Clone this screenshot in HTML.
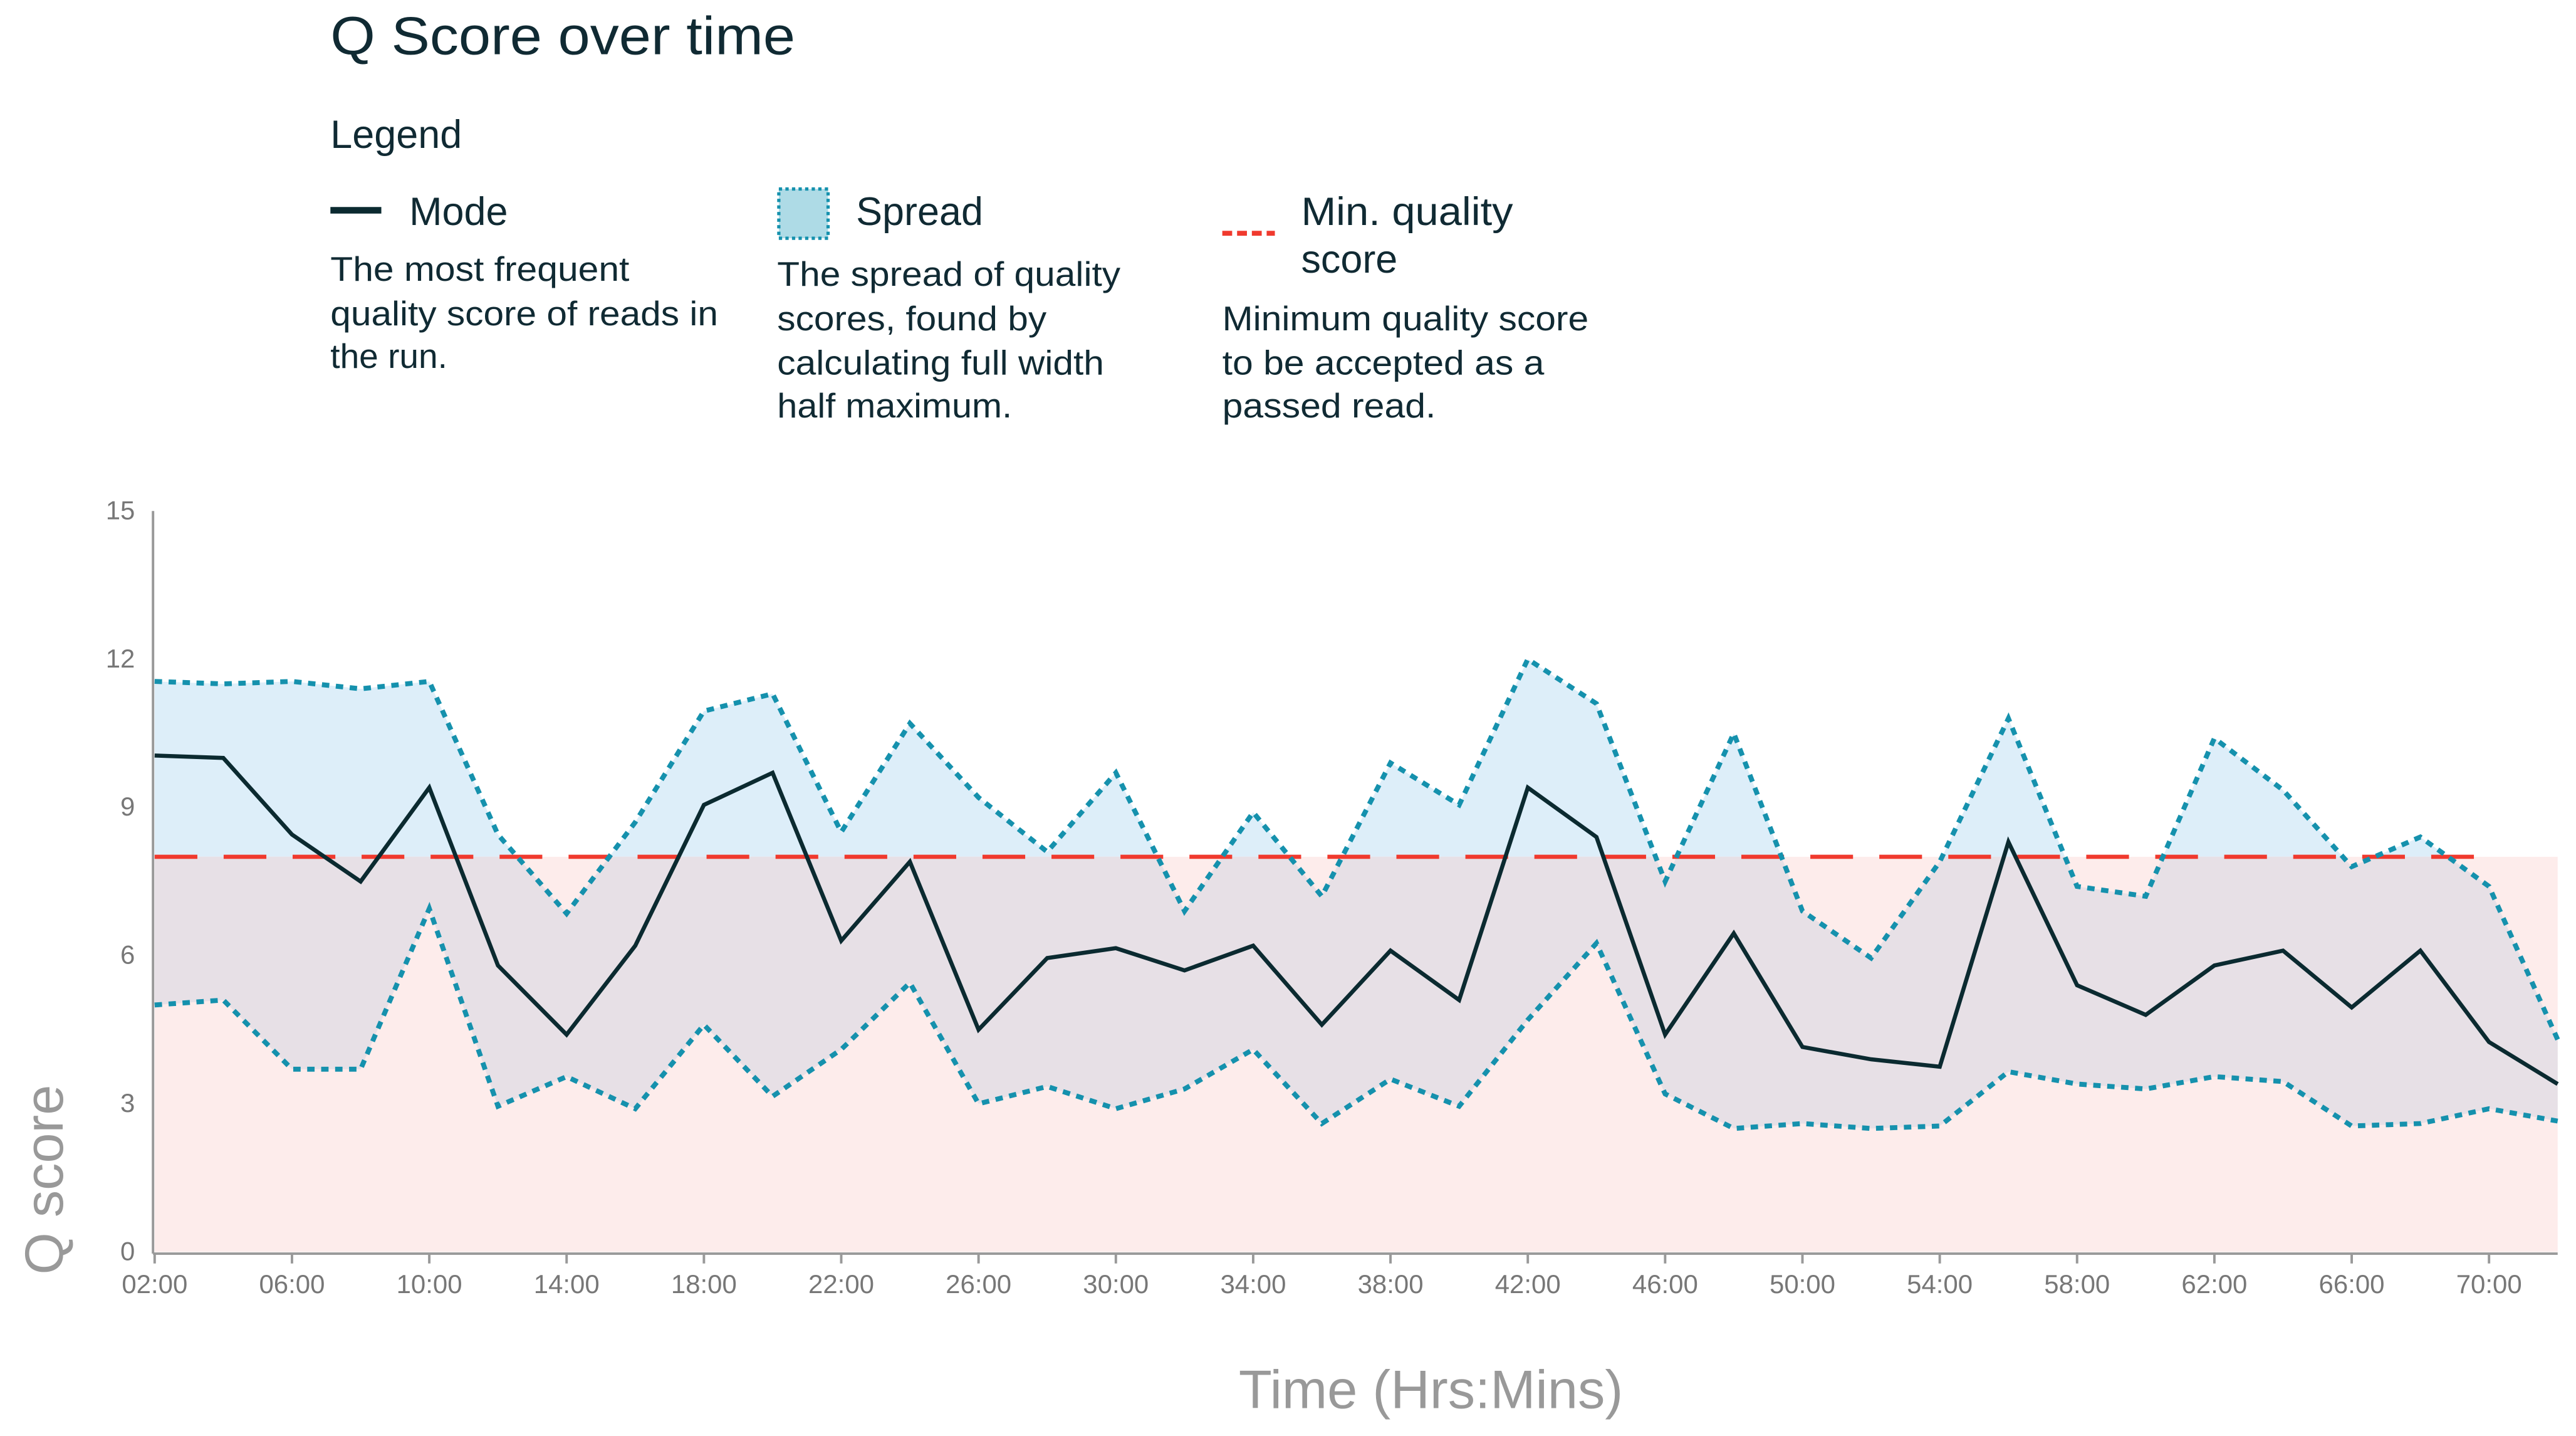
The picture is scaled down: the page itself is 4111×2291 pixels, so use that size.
<!DOCTYPE html>
<html><head><meta charset="utf-8"><style>
html,body{margin:0;padding:0;background:#fff;}
svg{display:block;font-family:"Liberation Sans",Arial,sans-serif;}
</style></head><body>
<svg id="chart" width="4111" height="2291" viewBox="0 0 1568 874" xmlns="http://www.w3.org/2000/svg">
<defs>
<clipPath id="above"><rect x="0" y="0" width="1568" height="521.4"/></clipPath>
<clipPath id="below"><rect x="0" y="521.4" width="1568" height="400"/></clipPath>
</defs>
<text x="201" y="33" font-size="32.5" fill="#102a33" textLength="283" lengthAdjust="spacingAndGlyphs">Q Score over time</text>
<text x="201" y="90" font-size="24" fill="#102a33">Legend</text>
<g fill="#102a33">
<line x1="201" y1="128" x2="232" y2="128" stroke="#0b2a30" stroke-width="4"/>
<text x="249" y="137" font-size="24">Mode</text>
<text x="201" y="171" font-size="21" textLength="182" lengthAdjust="spacingAndGlyphs">The most frequent</text>
<text x="201" y="198" font-size="21" textLength="236" lengthAdjust="spacingAndGlyphs">quality score of reads in</text>
<text x="201" y="224" font-size="21">the run.</text>
</g>
<g fill="#102a33">
<rect x="474" y="115" width="30" height="30" fill="#aedbe6" stroke="#1591ad" stroke-width="2" stroke-dasharray="2 2"/>
<text x="521" y="137" font-size="24">Spread</text>
<text x="473" y="174" font-size="21" textLength="209" lengthAdjust="spacingAndGlyphs">The spread of quality</text>
<text x="473" y="201" font-size="21" textLength="164" lengthAdjust="spacingAndGlyphs">scores, found by</text>
<text x="473" y="228" font-size="21" textLength="199" lengthAdjust="spacingAndGlyphs">calculating full width</text>
<text x="473" y="254" font-size="21" textLength="143" lengthAdjust="spacingAndGlyphs">half maximum.</text>
</g>
<g fill="#102a33">
<line x1="744" y1="142" x2="776" y2="142" stroke="#f03a2e" stroke-width="3" stroke-dasharray="6 3"/>
<text x="792" y="137" font-size="24" textLength="129" lengthAdjust="spacingAndGlyphs">Min. quality</text>
<text x="792" y="166" font-size="24">score</text>
<text x="744" y="201" font-size="21" textLength="223" lengthAdjust="spacingAndGlyphs">Minimum quality score</text>
<text x="744" y="228" font-size="21" textLength="196" lengthAdjust="spacingAndGlyphs">to be accepted as a</text>
<text x="744" y="254" font-size="21" textLength="130" lengthAdjust="spacingAndGlyphs">passed read.</text>
</g>
<g id="plot"></g>
<text transform="translate(38,718) rotate(-90)" text-anchor="middle" font-size="33" fill="#999">Q score</text>
<text x="871" y="857" text-anchor="middle" font-size="33" fill="#999" textLength="234" lengthAdjust="spacingAndGlyphs">Time (Hrs:Mins)</text>
</svg>
<script>
const times = ["02:00","04:00","06:00","08:00","10:00","12:00","14:00","16:00","18:00","20:00","22:00","24:00","26:00","28:00","30:00","32:00","34:00","36:00","38:00","40:00","42:00","44:00","46:00","48:00","50:00","52:00","54:00","56:00","58:00","60:00","62:00","64:00","66:00","68:00","70:00","72:00"];
const modeValues = [10.05,10.0,8.45,7.5,9.4,5.8,4.4,6.2,9.05,9.7,6.3,7.9,4.5,5.95,6.15,5.7,6.2,4.6,6.1,5.1,9.4,8.4,4.4,6.45,4.15,3.9,3.75,8.3,5.4,4.8,5.8,6.1,4.95,6.1,4.25,3.4];
const upperValues = [11.55,11.5,11.55,11.4,11.55,8.45,6.85,8.7,10.95,11.3,8.5,10.7,9.2,8.1,9.7,6.9,8.9,7.2,9.9,9.05,12.0,11.1,7.5,10.5,6.9,5.95,7.9,10.8,7.4,7.2,10.4,9.35,7.8,8.4,7.4,4.3];
const lowerValues = [5.0,5.1,3.7,3.7,6.95,2.95,3.55,2.9,4.6,3.15,4.1,5.45,3.0,3.35,2.9,3.3,4.1,2.6,3.5,2.95,4.7,6.25,3.2,2.5,2.6,2.5,2.55,3.65,3.4,3.3,3.55,3.45,2.55,2.6,2.9,2.65];
const minQuality = [8];
const yTicks = [0,3,6,9,12,15];
const xTickLabels = ["02:00","06:00","10:00","14:00","18:00","22:00","26:00","30:00","34:00","38:00","42:00","46:00","50:00","54:00","58:00","62:00","66:00","70:00"];

const NS = "http://www.w3.org/2000/svg";
const X0 = 94, X1 = 1557, Y0 = 762, Y1 = 311, YMAX = 15;
const xi = i => X0 + (X1 - X0) * i / (times.length - 1);
const xt = t => xi(times.indexOf(t));
const y = v => Y0 - (Y0 - Y1) * v / YMAX;
const plot = document.getElementById('plot');
function mk(tag, attrs, parent) {
  const e = document.createElementNS(NS, tag);
  for (const k in attrs) e.setAttribute(k, attrs[k]);
  (parent || plot).appendChild(e);
  return e;
}
const yMin = y(minQuality[0]);
const bg = mk('rect', {x: X0, y: yMin, width: X1 - X0, height: Y0 - yMin, fill: '#fdeceb'});



const up = upperValues.map((v, i) => xi(i) + ',' + y(v));
const lo = lowerValues.map((v, i) => xi(i) + ',' + y(v)).reverse();
const poly = up.concat(lo).join(' ');
const sa = mk('polygon', {points: poly, fill: '#ddeef9', 'clip-path': 'url(#above)'});


const sb = mk('polygon', {points: poly, fill: '#e7e0e6', 'clip-path': 'url(#below)'});



const ml = mk('line', {x1: X0, y1: yMin, x2: 1512, y2: yMin, stroke: '#f03a2e', 'stroke-width': 2.5, 'stroke-dasharray': '26 16'});



const ul = mk('polyline', {points: up.join(' '), fill: 'none', stroke: '#1591ad', 'stroke-width': 3, 'stroke-dasharray': '4.5 4'});


const ll = mk('polyline', {points: lowerValues.map((v, i) => xi(i) + ',' + y(v)).join(' '), fill: 'none', stroke: '#1591ad', 'stroke-width': 3, 'stroke-dasharray': '4.5 4'});


const mo = mk('polyline', {points: modeValues.map((v, i) => xi(i) + ',' + y(v)).join(' '), fill: 'none', stroke: '#0b2a30', 'stroke-width': 2.5, 'stroke-linejoin': 'miter'});



const ya = mk('line', {x1: X0 - 1, y1: Y1, x2: X0 - 1, y2: Y0 + 1, stroke: '#999', 'stroke-width': 1.5});


const xa = mk('line', {x1: X0 - 1, y1: Y0 + 1, x2: X1, y2: Y0 + 1, stroke: '#999', 'stroke-width': 1.5});



yTicks.forEach(v => {
  const t = mk('text', {x: 82, y: y(v) + 5, 'text-anchor': 'end', 'font-size': 16, fill: '#777'});
  
  
  t.textContent = v;
});
xTickLabels.forEach(lab => {
  const x = xt(lab);
  const tk = mk('line', {x1: x, y1: Y0 + 1, x2: x, y2: Y0 + 7, stroke: '#999', 'stroke-width': 1.5});
  
  
  const t = mk('text', {x: x, y: 787, 'text-anchor': 'middle', 'font-size': 16, fill: '#777'});
  
  
  t.textContent = lab;
});
</script>
</body></html>
